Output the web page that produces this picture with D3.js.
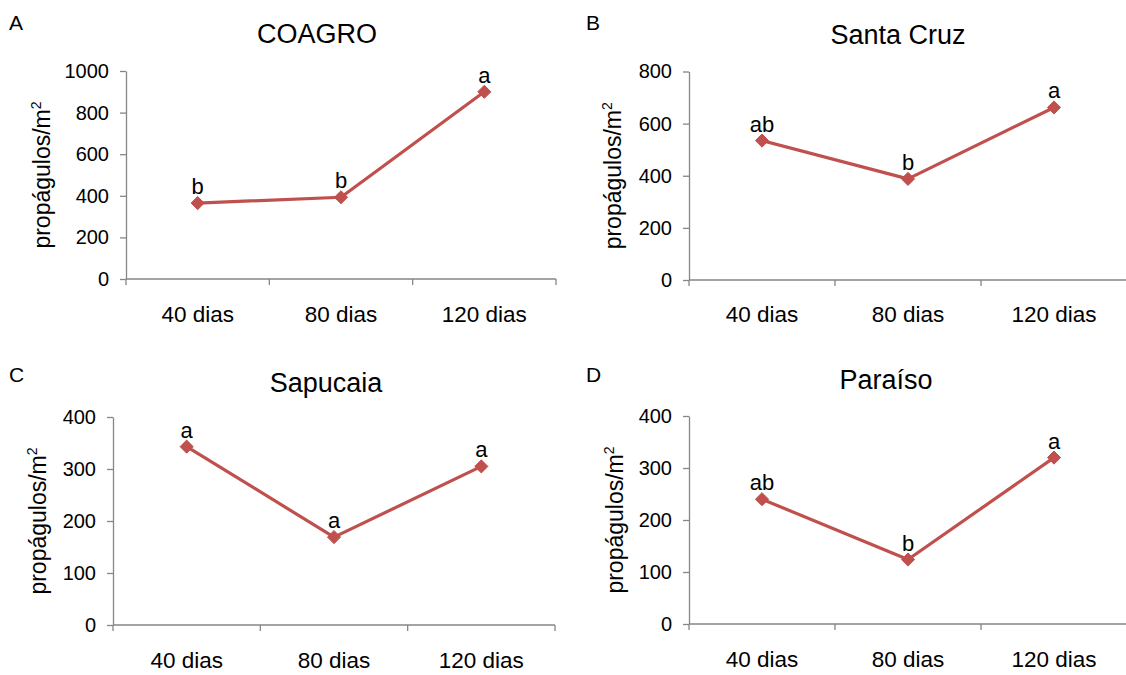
<!DOCTYPE html>
<html>
<head>
<meta charset="utf-8">
<script src="https://cdn.jsdelivr.net/npm/d3@7"></script>
<style>
  html, body { margin: 0; padding: 0; background: #fff; }
  svg { display: block; }
  text { font-family: "Liberation Sans", Arial, sans-serif; fill: #000; }
</style>
</head>
<body>
<svg id="chart" width="1126" height="675"></svg>
<script>
// ---- data ----
const categories = ["40 dias", "80 dias", "120 dias"];
const panelLetters = ["A", "B", "C", "D"];
const panelTitles = ["COAGRO", "Santa Cruz", "Sapucaia", "Paraíso"];
const coagroValues = [365, 393, 900];
const santaCruzValues = [535, 388, 662];
const sapucaiaValues = [343, 169, 305];
const paraisoValues = [240, 124, 320];
const coagroLetters = ["b", "b", "a"];
const santaCruzLetters = ["ab", "b", "a"];
const sapucaiaLetters = ["a", "a", "a"];
const paraisoLetters = ["ab", "b", "a"];
const coagroTicks = [0, 200, 400, 600, 800, 1000];
const santaCruzTicks = [0, 200, 400, 600, 800];
const sapucaiaTicks = [0, 100, 200, 300, 400];
const paraisoTicks = [0, 100, 200, 300, 400];
const yLabel = "propágulos/m";

const seriesValues = [coagroValues, santaCruzValues, sapucaiaValues, paraisoValues];
const seriesLetters = [coagroLetters, santaCruzLetters, sapucaiaLetters, paraisoLetters];
const seriesTicks = [coagroTicks, santaCruzTicks, sapucaiaTicks, paraisoTicks];

// ---- layout (positions only) ----
const layout = [
  { x0: 126, x1: 556, yTop: 71, yBot: 279, titleX: 317, titleY: 43, letterX: 9, letterY: 30, ylabX: 50, catY: 322 },
  { x0: 689, x1: 1127, yTop: 71.5, yBot: 280, titleX: 898, titleY: 44, letterX: 586, letterY: 30, ylabX: 621, catY: 322 },
  { x0: 113, x1: 555, yTop: 417, yBot: 625, titleX: 326, titleY: 392, letterX: 9, letterY: 382, ylabX: 46, catY: 668 },
  { x0: 689, x1: 1127, yTop: 416, yBot: 624, titleX: 886, titleY: 389, letterX: 586, letterY: 382, ylabX: 623, catY: 667 }
];

const svg = d3.select("#chart");
const axisColor = "#868686";
const lineColor = "#c0504d";

layout.forEach((L, i) => {
  const g = svg.append("g");
  const ticks = seriesTicks[i];
  const vals = seriesValues[i];
  const lets = seriesLetters[i];

  const x = d3.scaleBand().domain(categories).range([L.x0, L.x1]).padding(0);
  const y = d3.scaleLinear().domain([0, d3.max(ticks)]).range([L.yBot, L.yTop]);

  // y axis
  const yAxis = d3.axisLeft(y).tickValues(ticks).tickFormat(d3.format("d"))
    .tickSize(6).tickPadding(11).tickSizeOuter(0);
  const ya = g.append("g").attr("transform", `translate(${L.x0},0)`).call(yAxis);
  ya.attr("font-size", null).attr("font-family", null);
  ya.select(".domain").attr("stroke", axisColor).attr("stroke-width", 1.3);
  ya.selectAll(".tick line").attr("stroke", axisColor).attr("stroke-width", 1.3);
  ya.selectAll(".tick text").style("font-size", "20px").attr("fill", "#000");

  // x axis line + boundary ticks
  const xa = g.append("g");
  xa.append("line")
    .attr("x1", L.x0).attr("x2", L.x1)
    .attr("y1", y(0)).attr("y2", y(0))
    .attr("stroke", axisColor).attr("stroke-width", 1.3);
  const bounds = categories.map(c => x(c)).concat([x(categories[categories.length - 1]) + x.bandwidth()]);
  xa.selectAll("line.b").data(bounds).enter().append("line")
    .attr("class", "b")
    .attr("x1", d => d).attr("x2", d => d)
    .attr("y1", y(0)).attr("y2", y(0) + 6)
    .attr("stroke", axisColor).attr("stroke-width", 1.3);
  xa.selectAll("text.cat").data(categories).enter().append("text")
    .attr("class", "cat")
    .attr("x", d => x(d) + x.bandwidth() / 2)
    .attr("y", L.catY)
    .attr("text-anchor", "middle")
    .style("font-size", "22.5px")
    .text(d => d);

  // series line
  const pts = categories.map((c, j) => [x(c) + x.bandwidth() / 2, y(vals[j])]);
  g.append("path")
    .attr("d", d3.line()(pts))
    .attr("fill", "none")
    .attr("stroke", lineColor)
    .attr("stroke-width", 3.2)
    .attr("stroke-linejoin", "round");

  // diamond markers
  const diamond = d3.symbol().type(d3.symbolDiamond2).size(110);
  g.selectAll("path.m").data(pts).enter().append("path")
    .attr("class", "m")
    .attr("d", diamond)
    .attr("transform", d => `translate(${d[0]},${d[1]})`)
    .attr("fill", lineColor)
    .attr("stroke", lineColor)
    .attr("stroke-width", 1);

  // significance letters
  g.selectAll("text.sig").data(pts).enter().append("text")
    .attr("class", "sig")
    .attr("x", d => d[0])
    .attr("y", d => d[1] - 9)
    .attr("text-anchor", "middle")
    .style("font-size", "22px")
    .text((d, j) => lets[j]);

  // title
  g.append("text")
    .attr("x", L.titleX).attr("y", L.titleY)
    .attr("text-anchor", "middle")
    .style("font-size", "27px")
    .text(panelTitles[i]);

  // panel letter
  g.append("text")
    .attr("x", L.letterX).attr("y", L.letterY)
    .style("font-size", "21px")
    .text(panelLetters[i]);

  // y label
  const yl = g.append("text")
    .attr("transform", `translate(${L.ylabX},${(L.yTop + L.yBot) / 2}) rotate(-90)`)
    .attr("text-anchor", "middle")
    .style("font-size", "23px");
  yl.append("tspan").text(yLabel);
  yl.append("tspan").style("font-size", "14px").attr("dy", -9).text("2");
});
</script>
</body>
</html>
